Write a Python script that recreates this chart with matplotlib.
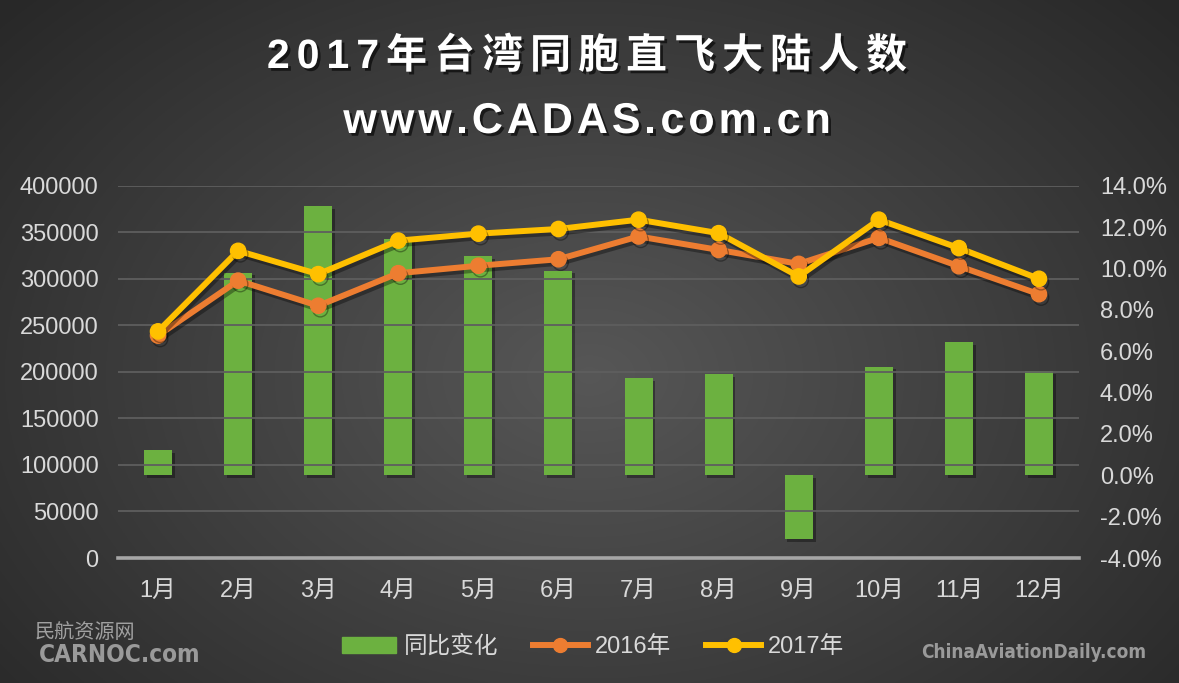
import numpy as np
import matplotlib
matplotlib.use("Agg")
import matplotlib.pyplot as plt
import matplotlib.patheffects as pe
from matplotlib.ticker import FuncFormatter
from matplotlib.patches import Patch
from matplotlib.lines import Line2D

plt.rcParams['font.family'] = ['Liberation Sans', 'Noto Sans CJK SC', 'DejaVu Sans']

months = ["1月", "2月", "3月", "4月", "5月", "6月", "7月", "8月", "9月", "10月", "11月", "12月"]
change = [1.2, 9.8, 13.0, 11.4, 10.6, 9.9, 4.7, 4.9, -3.1, 5.25, 6.45, 5.05]  # 同比变化 %
y2016 = [239000, 298000, 271000, 306000, 314000, 321000, 345500, 331000, 316000, 344000, 313500, 283500]
y2017 = [243500, 330000, 305000, 341000, 348500, 353500, 363500, 349000, 302500, 363500, 333000, 300000]

W, H = 1179, 683
fig = plt.figure(figsize=(W / 100, H / 100), dpi=100)

# radial dark background
bg = fig.add_axes([0, 0, 1, 1], zorder=-10)
yy, xx = np.mgrid[0:1:400j, 0:1:700j]
r = np.sqrt(((xx - 0.5) / 0.62) ** 2 + ((yy - 0.45) / 0.75) ** 2)
shade = np.clip(0.34 - 0.17 * r, 0.16, 0.34)
bg.imshow(np.dstack([shade] * 3), extent=[0, 1, 0, 1], aspect="auto", origin="lower")
bg.axis("off")

x = np.arange(len(months))
ax = fig.add_axes([0.1001, 0.183, 0.8151, 0.5451])
ax2 = ax.twinx()

# bars on the right axis, behind the lines
ax2.bar(x, np.array(change) / 100, width=0.35, color="#6cb140", zorder=2,
        path_effects=[pe.SimplePatchShadow(offset=(2, -2), shadow_rgbFace="black", alpha=0.35), pe.Normal()])
ax2.set_ylim(-0.04, 0.14)
ax2.set_yticks(np.arange(-0.04, 0.141, 0.02))
ax2.yaxis.set_major_formatter(FuncFormatter(lambda v, p: "%.1f%%" % (v * 100)))

ax.set_zorder(ax2.get_zorder() + 1)
ax.patch.set_visible(False)
shadow = [pe.SimpleLineShadow(offset=(1.5, -2.5), shadow_color="black", alpha=0.35), pe.Normal()]
ax.plot(x, y2016, color="#ed7d31", lw=4.3, marker="o", ms=11, label="2016年",
        solid_capstyle="round", path_effects=shadow, zorder=3)
ax.plot(x, y2017, color="#ffc000", lw=4.3, marker="o", ms=11, label="2017年",
        solid_capstyle="round", path_effects=shadow, zorder=4)
ax.set_ylim(0, 400000)
ax.set_yticks(np.arange(0, 400001, 50000))
ax.set_xlim(-0.5, len(months) - 0.5)
ax.set_xticks(x)
ax.set_xticklabels(months)

ax.grid(axis="y", color="#5e5e5e", lw=1.3)
ax.set_axisbelow(True)
ax.axhline(0, color="#a6a6a6", lw=2.6, zorder=5, clip_on=False)

for a in (ax, ax2):
    for s in a.spines.values():
        s.set_visible(False)
    a.tick_params(length=0, colors="#d9d9d9", labelsize=17)
ax.tick_params(axis="y", pad=14)
ax2.tick_params(axis="y", pad=15)
ax.tick_params(axis="x", pad=16)

# legend
handles = [Patch(color="#6cb140"),
           Line2D([], [], color="#ed7d31", lw=4.3, marker="o", ms=10),
           Line2D([], [], color="#ffc000", lw=4.3, marker="o", ms=10)]
fig.legend(handles, ["同比变化", "2016年", "2017年"], loc="center", bbox_to_anchor=(0.503, 0.053),
           ncol=3, frameon=False, fontsize=17, labelcolor="#d9d9d9", handlelength=2.3,
           handletextpad=0.3, columnspacing=1.5)


def spaced_text(xc, y_base, s, gap, **kw):
    # draw text char by char with extra letter spacing, centred on xc (pixels)
    rend = fig.canvas.get_renderer()
    texts = [fig.text(0, y_base / H, ch, ha="left", va="baseline", **kw) for ch in s]
    widths = [t.get_window_extent(rend).width for t in texts]
    xpos = xc - (sum(widths) + gap * (len(s) - 1)) / 2
    for t, w in zip(texts, widths):
        t.set_x(xpos / W)
        xpos += w + gap


sh = [pe.withSimplePatchShadow(offset=(2, -2), shadow_rgbFace="black", alpha=0.6)]
spaced_text(587, H - 68, "2017年台湾同胞直飞大陆人数", 7, color="white", fontsize=29.5,
            fontweight="bold", path_effects=sh)
spaced_text(587, H - 133, "www.CADAS.com.cn", 4, color="white", fontsize=31,
            fontweight="bold", path_effects=sh)

# watermarks
fig.text(35 / W, 1 - 633 / H, "民航资源网", color="#a0a0a0", fontsize=14.5, va="center",
         family=["Noto Sans CJK SC"], fontweight="light")
fig.text(39 / W, 1 - 655 / H, "CARNOC.com", color="#9a9a9a", fontsize=17.5, fontweight="bold",
         va="center", family=["DejaVu Sans"], fontstretch="condensed")
fig.text(921 / W, 1 - 653 / H, "ChinaAviationDaily.com", color="#9a9a9a", fontsize=13.6,
         fontweight="bold", va="center", family=["DejaVu Sans"], fontstretch="condensed")

fig.savefig("out.png", dpi=100)
